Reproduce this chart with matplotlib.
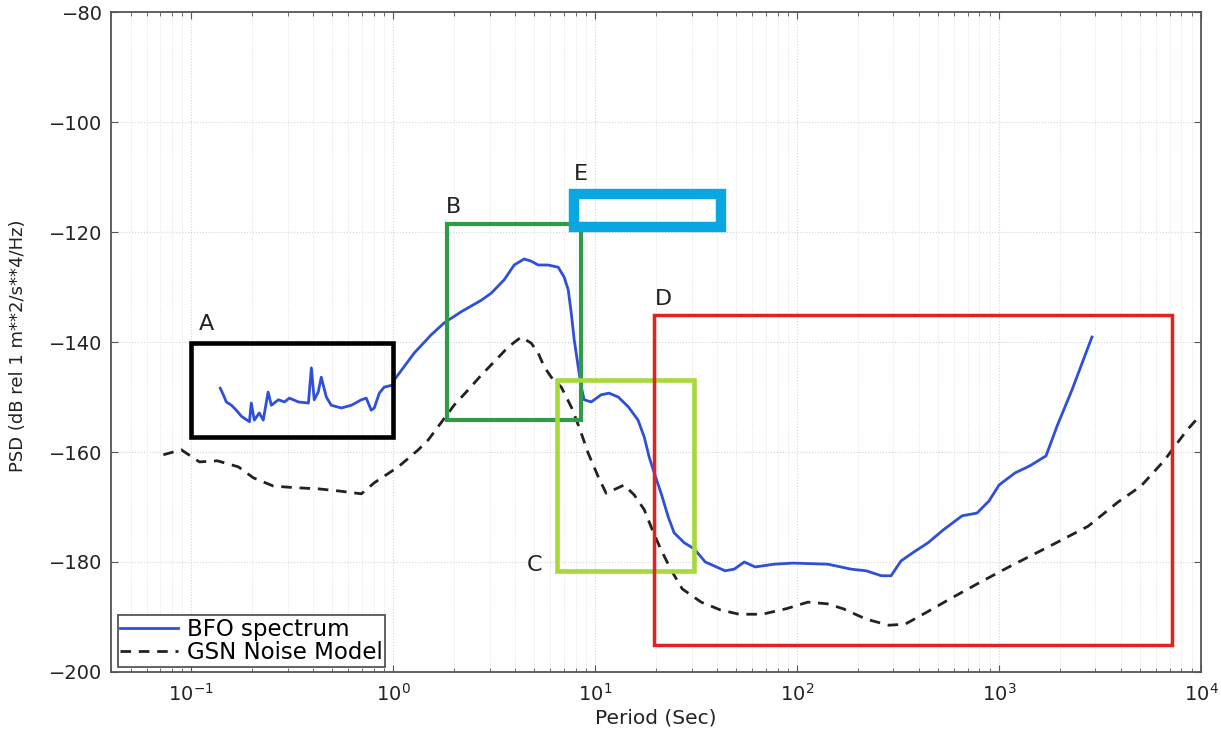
import matplotlib
matplotlib.use("Agg")
import matplotlib.pyplot as plt
from matplotlib.patches import Rectangle
from matplotlib.ticker import LogLocator, FixedLocator

plt.rcParams['font.family'] = ['DejaVu Sans']
plt.rcParams['mathtext.fontset'] = 'dejavusans'

# ---- data ----
bfo_period = [0.139, 0.144, 0.149, 0.158, 0.167, 0.177, 0.194, 0.198, 0.205, 0.217,
              0.227, 0.240, 0.249, 0.270, 0.289, 0.306, 0.339, 0.380, 0.393, 0.406,
              0.425, 0.440, 0.466, 0.493, 0.553, 0.620, 0.695, 0.735, 0.778, 0.805,
              0.853, 0.902, 1.0, 1.011, 1.27, 1.54, 1.79, 2.17, 2.73, 3.06, 3.54,
              3.97, 4.45, 4.82, 5.22, 5.85, 6.56, 7.02, 7.35, 7.61, 7.87, 8.24,
              8.53, 8.82, 9.55, 10.7, 11.7, 13.0, 14.6, 16.3, 17.5, 18.5, 19.6,
              21.2, 23.0, 24.6, 27.6, 30.9, 35.1, 44.0, 48.8, 54.7, 62.0, 76.9,
              95.5, 142, 185, 220, 261, 292, 327, 371, 445, 528, 656, 778, 892,
              1000, 1200, 1423, 1709, 1937, 2298, 2884]
bfo_psd = [-148.4, -149.6, -150.9, -151.5, -152.4, -153.5, -154.5, -151.1, -154.2, -152.9,
           -154.2, -149.1, -151.5, -150.5, -150.9, -150.2, -150.9, -151.1, -144.7, -150.5,
           -149.1, -146.4, -150.0, -151.5, -152.0, -151.5, -150.5, -150.2, -152.4, -152.0,
           -149.3, -148.2, -147.8, -146.9, -142.0, -138.7, -136.5, -134.5, -132.4, -131.1, -128.7,
           -126.0, -124.9, -125.3, -126.0, -126.0, -126.4, -128.2, -130.5, -134.7, -139.6, -144.5,
           -148.2, -150.5, -150.9, -149.6, -149.3, -150.0, -151.8, -154.2, -157.3, -160.9, -163.8,
           -167.5, -171.8, -174.7, -176.5, -177.6, -180.0, -181.6, -181.3, -180.0, -180.9, -180.4,
           -180.2, -180.4, -181.3, -181.6, -182.5, -182.5, -179.8, -178.4, -176.5, -174.2, -171.6,
           -171.1, -168.9, -166.0, -163.8, -162.5, -160.7, -155.3, -148.7, -139.1]

gsn_period = [0.0727, 0.0892, 0.1096, 0.1345, 0.171, 0.203, 0.255, 0.331, 0.426, 0.541,
              0.695, 0.805, 1.059, 1.33, 1.49, 2.00, 2.35, 2.73, 3.16, 3.71, 4.30,
              4.82, 5.22, 5.59, 6.06, 6.79, 7.61, 8.33, 9.23, 10.35, 11.33, 13.0,
              13.9, 15.6, 17.5, 19.2, 21.2, 23.8, 27.0, 33.5, 41.6, 51.6, 67.1,
              88.3, 113, 141, 169, 220, 285, 343, 440, 572, 814, 1146, 1787,
              2760, 3883, 5044, 6560, 8530, 9780]
gsn_psd = [-160.5, -159.6, -161.8, -161.6, -162.7, -164.7, -166.2, -166.5, -166.7, -167.1,
           -167.6, -165.6, -162.7, -159.6, -157.8, -151.5, -148.7, -146.0, -143.6, -140.9, -139.1,
           -140.2, -142.0, -144.5, -146.4, -148.2, -151.8, -155.5, -160.2, -164.5, -167.5, -166.5,
           -166.0, -167.8, -170.5, -174.2, -177.8, -181.5, -184.9, -187.3, -188.7, -189.5, -189.5,
           -188.5, -187.3, -187.6, -188.5, -190.4, -191.5, -191.3, -189.1, -186.7, -183.6, -180.7, -177.1,
           -173.5, -169.1, -166.2, -161.6, -156.0, -153.6]

# annotation boxes: label, (x0, x1) period, (y0, y1) dB
box_labels = ['A', 'B', 'C', 'D', 'E']
box_x = [(0.1, 1.0), (1.85, 8.5), (6.48, 30.9), (19.6, 7180), (7.87, 42.0)]
box_y = [(-157.3, -140.2), (-154.2, -118.5), (-181.6, -146.9), (-195.1, -135.1), (-119.1, -113.1)]
box_colors = ['#000000', '#2f9a48', '#a6d93b', '#e3211f', '#0aa6e2']
box_widths = [3.3, 3.0, 3.3, 2.5, 7.5]
label_pos = [(0.109, -137.8), (1.83, -116.5), (4.6, -181.6), (19.8, -133.3), (7.8, -110.5)]

xlim = (0.04, 1e4)
ylim = (-200, -80)
yticks = [-200, -180, -160, -140, -120, -100, -80]

# ---- figure ----
fig = plt.figure(figsize=(12.21, 7.29), dpi=100)
ax = fig.add_axes([0.0909, 0.0782, 0.8927, 0.9053])

ax.set_xscale('log')
ax.set_xlim(*xlim)
ax.set_ylim(*ylim)
ax.yaxis.set_major_locator(FixedLocator(yticks))
ax.xaxis.set_major_locator(LogLocator(base=10, numticks=20))
ax.xaxis.set_minor_locator(LogLocator(base=10, subs=range(2, 10), numticks=100))

ax.grid(True, which='major', axis='both', color='#d4d4d4', linestyle=':', linewidth=0.8)
ax.grid(True, which='minor', axis='x', color='#e0e0e0', linestyle=':', linewidth=0.7)

ax.plot(bfo_period, bfo_psd, color='#2f4fd8', linewidth=2.0, label='BFO spectrum', zorder=3)
ax.plot(gsn_period, gsn_psd, color='#222222', linewidth=2.0, linestyle=(0, (3.8, 2.8)),
        label='GSN Noise Model', zorder=3)

for lab, (x0, x1), (y0, y1), c, lw, (lx, ly) in zip(box_labels, box_x, box_y, box_colors,
                                                     box_widths, label_pos):
    ax.add_patch(Rectangle((x0, y0), x1 - x0, y1 - y0, fill=False, edgecolor=c,
                           linewidth=lw, zorder=4))
    ax.text(lx, ly, lab, fontsize=16, color='#222222', ha='left', va='baseline', zorder=5)

ax.tick_params(which='both', direction='in', top=True, right=True, labelsize=14,
               color='#555555', labelcolor='#222222')
ax.tick_params(which='major', length=5)
ax.tick_params(which='minor', length=3)
ax.tick_params(axis='x', which='major', pad=8)
ax.tick_params(axis='y', which='major', pad=6)
for s in ax.spines.values():
    s.set_color('#555555')
    s.set_linewidth(1.3)

ax.set_xlabel('Period (Sec)', fontsize=14.5, color='#222222')
ax.xaxis.set_label_coords(0.5, -0.056)
ax.set_ylabel('PSD (dB rel 1 m**2/s**4/Hz)', fontsize=13, color='#222222')
ax.yaxis.set_label_coords(-0.077, 0.495)

leg = ax.legend(loc='lower left', bbox_to_anchor=(0.006, 0.008), borderaxespad=0,
                fontsize=16.5, handlelength=2.5, fancybox=False, framealpha=1,
                edgecolor='#555555', borderpad=0.12, labelspacing=0.0, handletextpad=0.4)
leg.get_frame().set_linewidth(1.3)

fig.savefig('out.png', dpi=100)
